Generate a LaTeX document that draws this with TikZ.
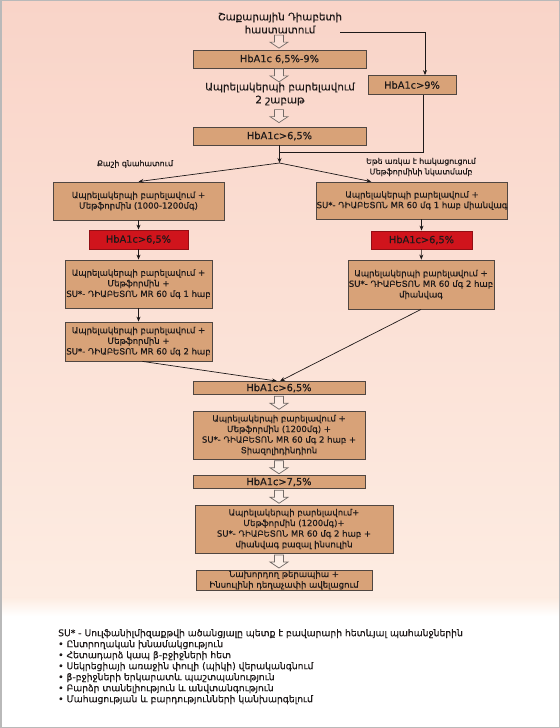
\documentclass[tikz,border=0pt]{standalone}
\usepackage{fontspec}
\setmainfont[FakeBold=0.3]{DejaVu Sans}
\usetikzlibrary{arrows.meta,calc}
\definecolor{bgtop}{RGB}{249,212,200}
\definecolor{bgbot}{RGB}{253,236,226}
\definecolor{boxfill}{RGB}{216,162,120}
\definecolor{boxline}{RGB}{80,70,65}
\definecolor{redfill}{RGB}{208,20,28}
\definecolor{txt}{RGB}{30,25,25}
\tikzset{
  box/.style={draw=boxline, fill=boxfill, line width=0.8bp, inner sep=0pt, align=center, text=txt,
    font=\fontsize{8.5bp}{10.6bp}\selectfont},
  hbbox/.style={box, font=\fontsize{9.8bp}{11bp}\selectfont},
  redbox/.style={hbbox, fill=redfill, draw=redfill!70!black},
  plain/.style={align=center, text=txt, inner sep=0pt, font=\fontsize{10.3bp}{13bp}\selectfont},
  small/.style={align=center, text=txt, inner sep=0pt, font=\fontsize{7.8bp}{10.5bp}\selectfont},
  arr/.style={draw=txt, line width=0.7bp, -{Stealth[length=5bp,width=4bp]}},
  conn/.style={draw=txt, line width=0.7bp},
  hol/.style={draw=boxline!80, line width=0.7bp, fill=white, fill opacity=0.25, draw opacity=1},
}
\newcommand\hollowarrow[2]{%
  \path ($(#1.south)!0.5!(#2.north)$) coordinate (hm);
  \draw[hol] (hm -| colx) +(-4.5,-6.5) -- +(4.5,-6.5) -- +(4.5,0.5) -- +(9,0.5) -- +(0,6.5) -- +(-9,0.5) -- +(-4.5,0.5) -- cycle;}
\begin{document}
\begin{tikzpicture}[x=1bp,y=-1bp]
\useasboundingbox (0,0) rectangle (560,728);
\shade[top color=bgtop,bottom color=bgbot] (0,0) rectangle (560,598);
\shade[top color=bgbot,bottom color=white] (0,597.5) rectangle (560,616);
\fill[white] (0,615.5) rectangle (560,728);
\draw[gray!55, line width=1.5bp] (0.75,0.75) rectangle (559.25,727.25);
\coordinate (colx) at (279,0);

\node[plain] (t) at (280,23) {Շաքարային Դիաբետի\\հաստատում};
\node[hbbox, minimum width=173bp, minimum height=18bp] (b1) at (279.5,59) {HbA1c 6,5\%-9\%};
\node[plain] (lw) at (280,94) {Ապրելակերպի բարելավում\\2 շաբաթ};
\node[hbbox, minimum width=173bp, minimum height=18bp] (b2) at (279.5,136) {HbA1c>6,5\%};
\node[hbbox, minimum width=88bp, minimum height=19bp] (r9) at (412,85) {HbA1c>9\%};

\node[small] (lq) at (135,164) {Քաշի գնահատում};
\node[small] (le) at (421,167) {Եթե առկա է հակացուցում\\Մեթֆորմինի նկատմամբ};

\node[box, minimum width=171bp, minimum height=38bp] (A1) at (138.5,201) {Ապրելակերպի բարելավում +\\Մեթֆորմին (1000-1200մգ)};
\node[redbox, minimum width=99bp, minimum height=19bp] (L1) at (138.5,239.5) {HbA1c>6,5\%};
\node[box, minimum width=147bp, minimum height=48bp] (A2) at (138.5,284) {Ապրելակերպի բարելավում +\\Մեթֆորմին +\\SU*- ԴԻԱԲԵՏՈՆ MR 60 մգ 1 հաբ};
\node[box, minimum width=147bp, minimum height=39bp] (A3) at (138.5,341.5) {Ապրելակերպի բարելավում +\\Մեթֆորմին +\\SU*- ԴԻԱԲԵՏՈՆ MR 60 մգ 2 հաբ};

\node[box, minimum width=190bp, minimum height=37bp] (B1) at (412,200.5) {Ապրելակերպի բարելավում +\\SU*- ԴԻԱԲԵՏՈՆ MR 60 մգ 1 հաբ միանվագ};
\node[redbox, minimum width=101bp, minimum height=18bp] (R1) at (421.5,240) {HbA1c>6,5\%};
\node[box, minimum width=146bp, minimum height=49bp] (B2) at (421,284.5) {Ապրելակերպի բարելավում +\\SU*- ԴԻԱԲԵՏՈՆ MR 60 մգ 2 հաբ\\միանվագ};

\node[hbbox, minimum width=172bp, minimum height=13bp] (C1) at (279,388) {HbA1c>6,5\%};
\node[box, minimum width=172bp, minimum height=48bp] (C2) at (279,435) {Ապրելակերպի բարելավում +\\Մեթֆորմին (1200մգ) +\\SU*- ԴԻԱԲԵՏՈՆ MR 60 մգ 2 հաբ +\\Տիազոլիդինդիոն};
\node[hbbox, minimum width=172bp, minimum height=13bp] (C3) at (279,482) {HbA1c>7,5\%};
\node[box, minimum width=198bp, minimum height=48bp] (C4) at (294,529) {Ապրելակերպի բարելավում+\\Մեթֆորմին (1200մգ)+\\SU*- ԴԻԱԲԵՏՈՆ MR 60 մգ 2 հաբ +\\միանվագ բազալ ինսուլին};
\node[box, minimum width=176bp, minimum height=20bp] (C5) at (284,580) {Նախորդող թերապիա +\\Ինսուլինի դեղաչափի ավելացում};

\node[anchor=north west, align=left, text=txt, inner sep=0pt, font=\fontsize{9.2bp}{11bp}\selectfont] (fn) at (58,629) {SU* - Սուլֆանիլմիզաքթվի ածանցյալը պետք է բավարարի հետևյալ պահանջներին\\
• Ընտրողական խնամակցություն\\
• Հետադարձ կապ β-բջիջների հետ\\
• Սեկրեցիայի առաջին փուլի (պիկի) վերականգնում\\
• β-բջիջների երկարատև պաշտպանություն\\
• Բարձր տանելիություն և անվտանգություն\\
• Մահացության և բարդությունների կանխարգելում};

% connectors
\coordinate (ts) at (340,32);
\draw[arr] (ts) -| ($(r9.north)+(13,0)$);
\coordinate (m1) at (279.5,152);
\coordinate (jn) at (279.5,163);
\draw[conn] ($(r9.south)+(11,0)$) |- (m1);
\draw[arr] (b2.south) -- (jn);
\draw[arr] (jn) -- (A1.north);
\draw[arr] (jn) -- ($(B1.north west)+(55,0)$);
\draw[arr] (A1) -- (L1);
\draw[arr] (L1) -- (A2);
\draw[arr] (A2) -- (A3);
\draw[arr] (R1.north |- B1.south) -- (R1.north);
\draw[arr] (R1) -- (B2);
\draw[arr] ($(A3.south)+(4,0)$) -- ($(C1.north)+(-2,0)$);
\draw[arr] (B2.south) -- ($(C1.north)+(1,0)$);

\hollowarrow{t}{b1}
\hollowarrow{b1}{lw}
\hollowarrow{lw}{b2}
\hollowarrow{C1}{C2}
\hollowarrow{C2}{C3}
\hollowarrow{C3}{C4}
\hollowarrow{C4}{C5}
\end{tikzpicture}
\end{document}
